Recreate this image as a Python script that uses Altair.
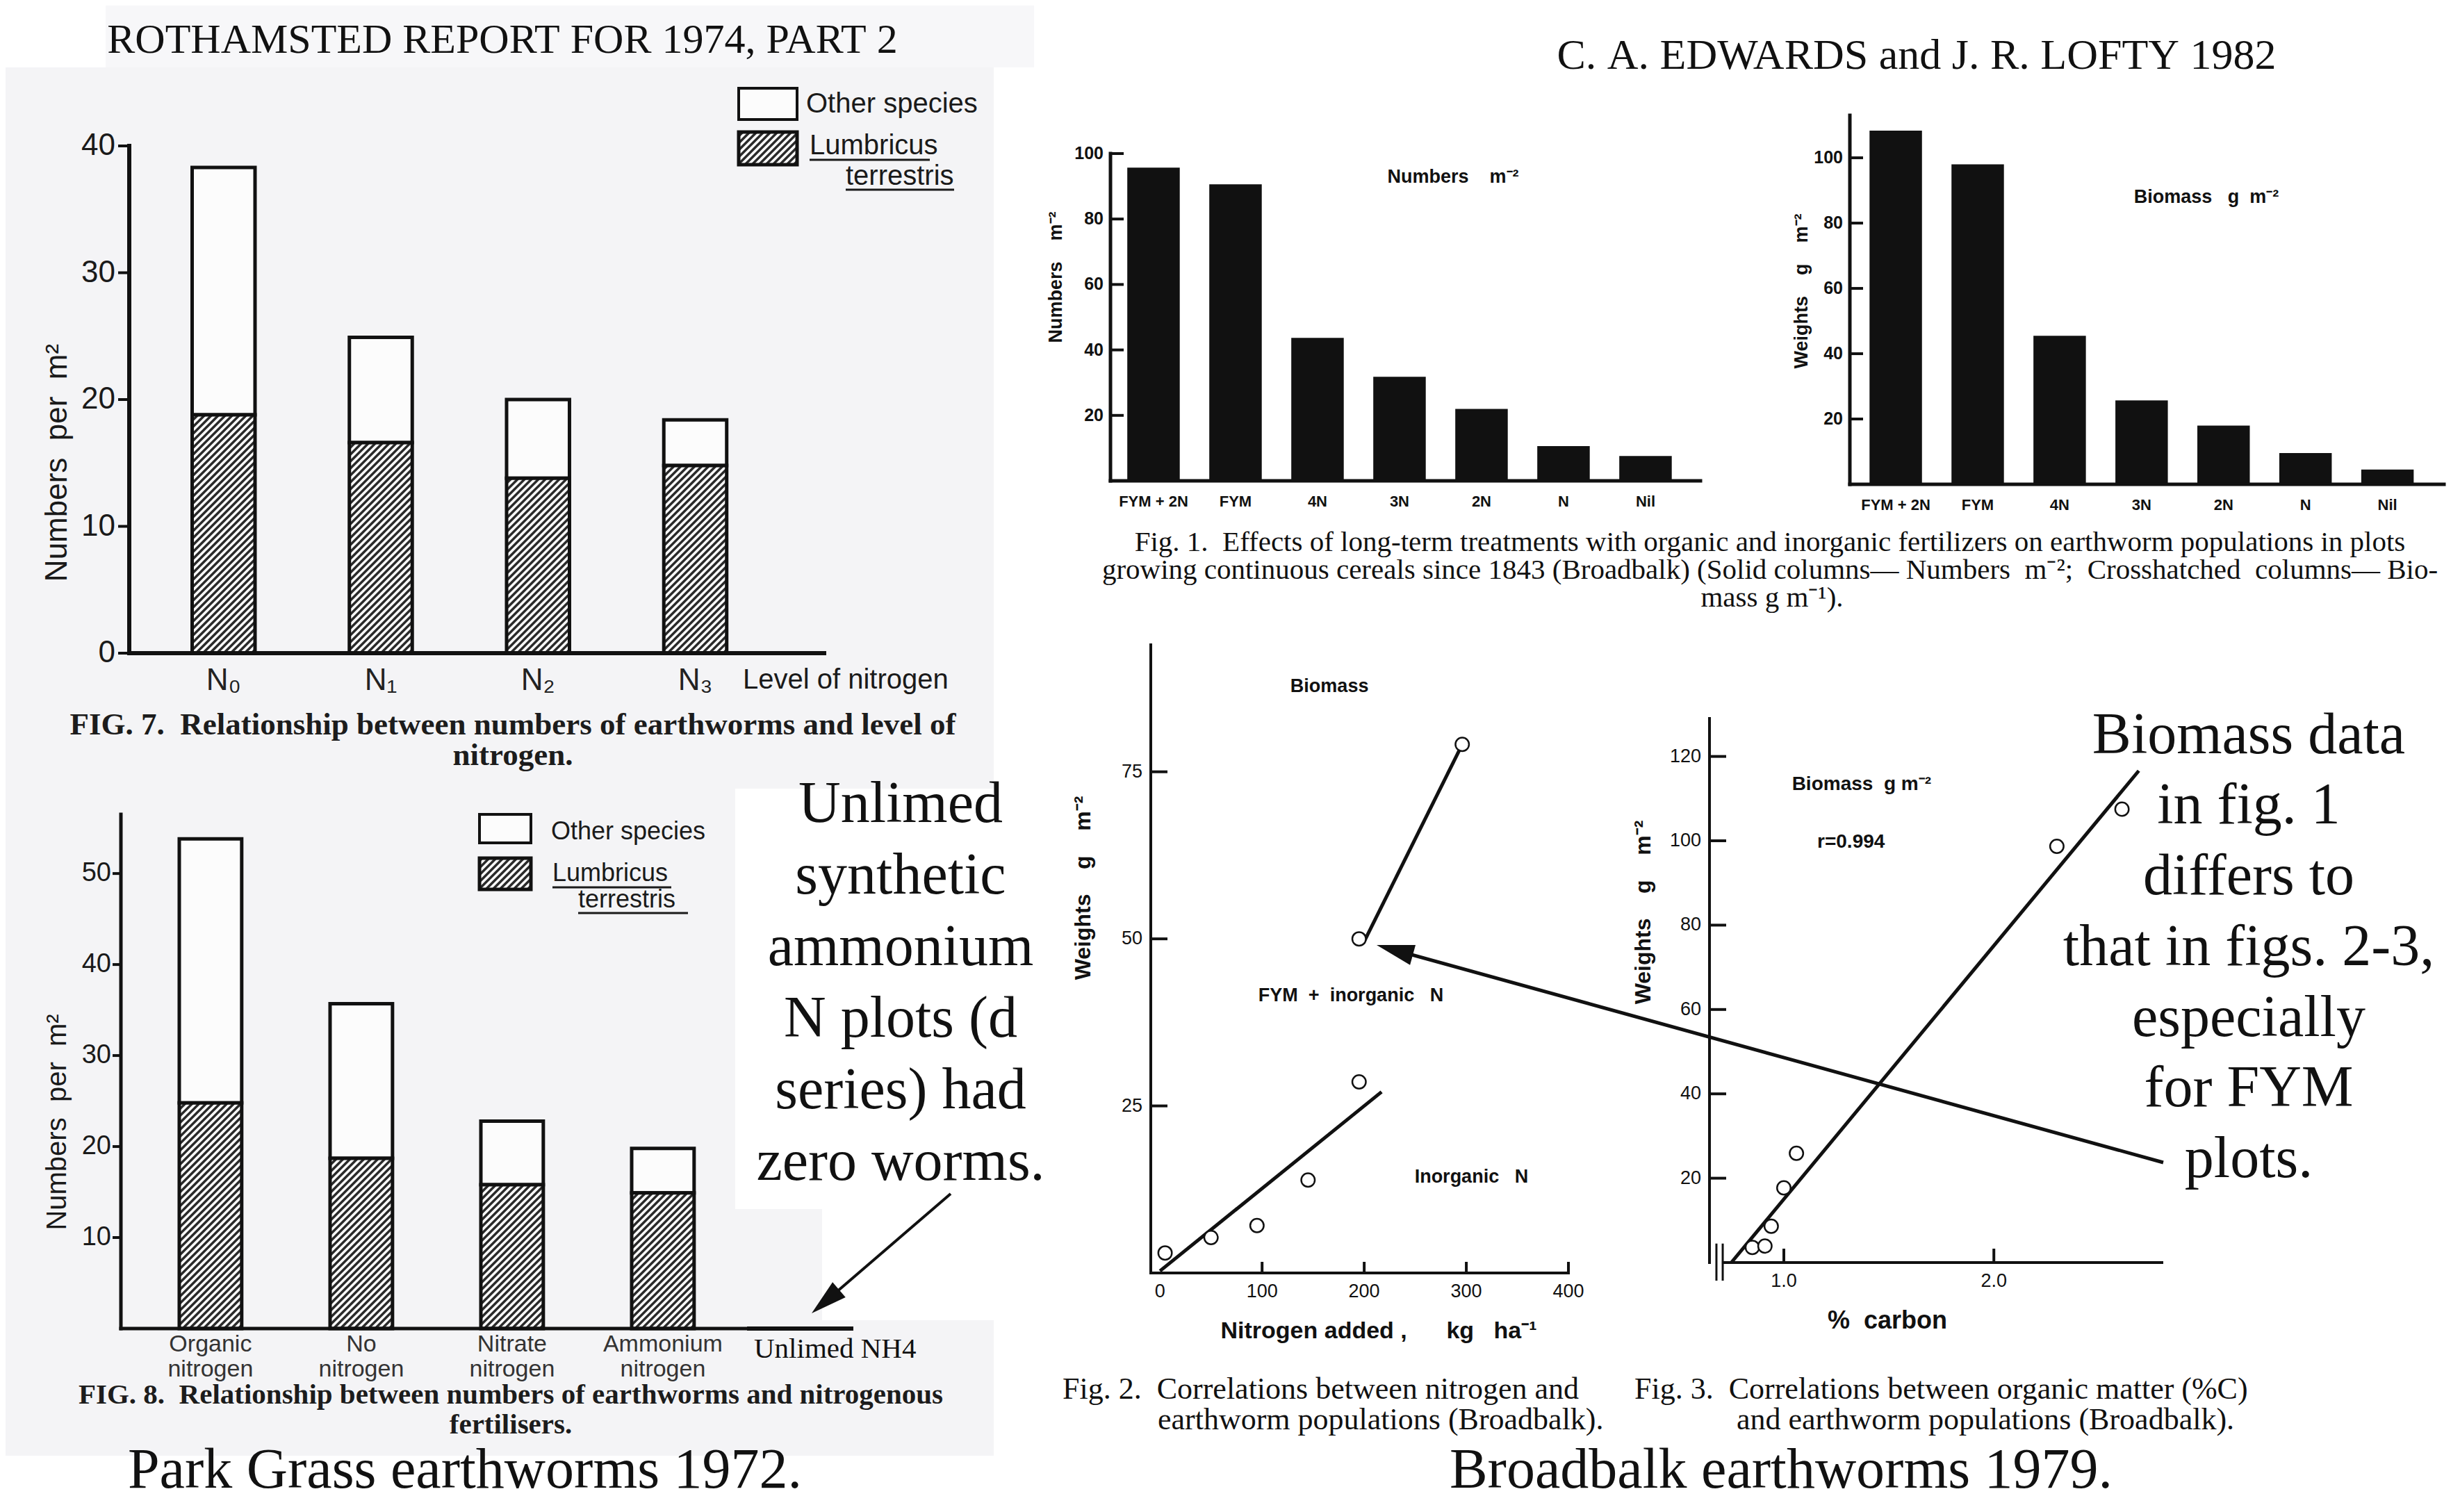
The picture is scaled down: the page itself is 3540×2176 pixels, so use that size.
import math
import altair as alt
import pandas as pd

# ------------------------------------------------------------------ data
fig7_levels = ["N₀", "N₁", "N₂", "N₃"]
fig7_total = [38.3, 24.9, 20.0, 18.4]
fig7_lumbricus = [18.8, 16.6, 13.8, 14.8]
fig7_yticks = [0, 10, 20, 30, 40]

fig8_fertiliser = ["Organic nitrogen", "No nitrogen", "Nitrate nitrogen", "Ammonium nitrogen"]
fig8_total = [53.8, 35.7, 22.8, 19.8]
fig8_lumbricus = [24.8, 18.7, 15.8, 14.9]
fig8_yticks = [10, 20, 30, 40, 50]
unlimed_nh4_total = [0.0]

fig1_treatments = ["FYM + 2N", "FYM", "4N", "3N", "2N", "N", "Nil"]
fig1_numbers = [95.7, 90.6, 43.7, 31.8, 22.0, 10.6, 7.6]
fig1_biomass = [108.3, 98.0, 45.5, 25.7, 18.0, 9.6, 4.5]
fig1_yticks = [20, 40, 60, 80, 100]

fig2_nitrogen = [5, 50, 95, 145, 195, 195, 296]
fig2_weight = [3.0, 5.3, 7.1, 13.9, 28.6, 50.0, 79.1]
fig2_inorg_line_x = [0, 217]
fig2_inorg_line_y = [0.3, 27.1]
fig2_fym_line_x = [199, 296]
fig2_fym_line_y = [49.3, 79.1]
fig2_xticks = [0, 100, 200, 300, 400]
fig2_yticks = [25, 50, 75]

fig3_carbon = [0.85, 0.91, 0.94, 1.00, 1.06, 2.30, 2.61]
fig3_weight = [3.6, 3.9, 8.6, 17.7, 25.9, 98.7, 107.5]
fig3_line_x = [0.75, 2.69]
fig3_line_y = [0.0, 116.6]
fig3_xticks = [1.0, 2.0]
fig3_yticks = [20, 40, 60, 80, 100, 120]

# ------------------------------------------------------------------ layout / style
OFF = 8
W, H = 3524, 2160
NB = "\u00a0"


def P(v):
    return v - OFF


def nb(s):
    # keep repeated spaces visible in SVG text
    return s.replace(" ", NB)


SANS_N = "Liberation Sans Narrow, Liberation Sans, Arial, sans-serif"
SANS_B = "Liberation Sans, Arial, sans-serif"
SERIF = "Liberation Serif, Times New Roman, serif"
INK = "#111111"
HATCH = "#2a2a2a"
PAPER_W = "#fcfcfc"

FIG = {
    "fig7": dict(xdom=[-0.60, 3.82], xpx=[186, 1186], ydom=[0, 40], ypx=[940, 210]),
    "fig8": dict(xdom=[-0.594, 3.558], xpx=[174, 1075], ydom=[0, 56.5], ypx=[1912, 1172]),
    "fig1n": dict(xdom=[-0.525, 6.67], xpx=[1598, 2447], ydom=[0, 100], ypx=[692, 221]),
    "fig1b": dict(xdom=[-0.56, 6.69], xpx=[2662, 3517], ydom=[0, 113], ypx=[697, 166]),
    "fig2": dict(xdom=[-9, 400], xpx=[1656, 2257], ydom=[0, 94], ypx=[1832, 928]),
    "fig3": dict(xdom=[0.646, 2.80], xpx=[2460, 3111], ydom=[0, 129], ypx=[1817, 1034]),
}


def scales(name):
    f = FIG[name]
    xs = alt.Scale(domain=f["xdom"], range=[P(f["xpx"][0]), P(f["xpx"][1])], nice=False, zero=False)
    ys = alt.Scale(domain=f["ydom"], range=[P(f["ypx"][0]), P(f["ypx"][1])], nice=False, zero=False)
    sx = (f["xpx"][1] - f["xpx"][0]) / (f["xdom"][1] - f["xdom"][0])
    sy = (f["ypx"][0] - f["ypx"][1]) / (f["ydom"][1] - f["ydom"][0])
    return xs, ys, sx, sy


def XQ(field, xs):
    return alt.X(field, type="quantitative", scale=xs, axis=None)


def YQ(field, ys):
    return alt.Y(field, type="quantitative", scale=ys, axis=None)


# ---------- hand-drawn axes (through the figure's scales)
def domain_lines(name, width=5, x_start=None):
    xs, ys, sx, sy = scales(name)
    f = FIG[name]
    x0, x1 = f["xdom"]
    y0, y1 = f["ydom"]
    df = pd.DataFrame({"x": [x0 if x_start is None else x_start, x0], "x2": [x1, x0],
                       "y": [y0, y0], "y2": [y0, y1]})
    return alt.Chart(df).mark_rule(color=INK, strokeWidth=width, strokeCap="square").encode(
        x=XQ("x", xs), x2="x2:Q", y=YQ("y", ys), y2="y2:Q")


def ticks_y(name, values, length_px, inward, width=4):
    xs, ys, sx, sy = scales(name)
    x0 = FIG[name]["xdom"][0]
    df = pd.DataFrame({"v": values})
    if inward:
        df["a"], df["b"] = x0, x0 + length_px / sx
    else:
        df["a"], df["b"] = x0 - length_px / sx, x0
    return alt.Chart(df).mark_rule(color=INK, strokeWidth=width).encode(
        x=XQ("a", xs), x2="b:Q", y=YQ("v", ys))


def ticks_x(name, values, length_px, width=4):
    xs, ys, sx, sy = scales(name)
    y0 = FIG[name]["ydom"][0]
    df = pd.DataFrame({"v": values})
    df["a"], df["b"] = y0, y0 + length_px / sy
    return alt.Chart(df).mark_rule(color=INK, strokeWidth=width).encode(
        x=XQ("v", xs), y=YQ("a", ys), y2="b:Q")


def labels_y(name, values, texts, font, size, pad, weight="normal", color=INK):
    xs, ys, sx, sy = scales(name)
    df = pd.DataFrame({"v": values, "t": [nb(t) for t in texts]})
    df["x"] = FIG[name]["xdom"][0]
    return alt.Chart(df).mark_text(font=font, fontSize=size, fontWeight=weight, color=color,
                                   align="right", baseline="middle", dx=-pad).encode(
        x=XQ("x", xs), y=YQ("v", ys), text="t:N")


def labels_x(name, positions, texts, font, size, pad, weight="normal", color=INK):
    xs, ys, sx, sy = scales(name)
    df = pd.DataFrame({"v": positions, "t": [nb(t) for t in texts]})
    df["y"] = FIG[name]["ydom"][0]
    return alt.Chart(df).mark_text(font=font, fontSize=size, fontWeight=weight, color=color,
                                   align="center", baseline="top", dy=pad).encode(
        x=XQ("v", xs), y=YQ("y", ys), text="t:N")


def hatch(x0, x1, y0, y1, sx, sy, step=10.0):
    wp = (x1 - x0) * sx
    hp = (y1 - y0) * sy
    out = []
    c = -wp + step / 2
    while c < hp:
        us = max(0.0, -c)
        ue = min(wp, hp - c)
        if ue > us:
            out.append({"x": x0 + us / sx, "y": y0 + (us + c) / sy,
                        "x2": x0 + ue / sx, "y2": y0 + (ue + c) / sy})
        c += step
    return out


# ---------- pixel-space decoration helpers
def PX(f):
    return alt.X(f, type="quantitative", scale=None, axis=None)


def PY(f):
    return alt.Y(f, type="quantitative", scale=None, axis=None)


def px_rects(rows, **mk):
    df = pd.DataFrame([{"x": P(a), "y": P(b), "x2": P(c), "y2": P(d)} for a, b, c, d in rows])
    return alt.Chart(df).mark_rect(**mk).encode(x=PX("x"), x2="x2:Q", y=PY("y"), y2="y2:Q")


def px_rules(rows, **mk):
    df = pd.DataFrame([{"x": P(a), "y": P(b), "x2": P(c), "y2": P(d)} for a, b, c, d in rows])
    return alt.Chart(df).mark_rule(**mk).encode(x=PX("x"), x2="x2:Q", y=PY("y"), y2="y2:Q")


def px_texts(rows, font, weight="normal", align="center", color=INK):
    df = pd.DataFrame([{"t": nb(t), "x": P(x), "y": P(y), "s": s, "a": a} for (t, x, y, s, a) in rows])
    return alt.Chart(df).mark_text(font=font, fontWeight=weight, align=align, baseline="middle",
                                   color=color).encode(
        x=PX("x"), y=PY("y"), text="t:N",
        size=alt.Size("s:Q", scale=None, legend=None),
        angle=alt.Angle("a:Q", scale=None, legend=None))


def legend(box1, box2, lab_rows, underline_rows):
    parts = [px_rects([box1, box2], fill=PAPER_W, stroke=INK, strokeWidth=4)]
    x0, y0, x1, y1 = box2
    segs = hatch(x0, x1, y1, y0, 1.0, -1.0, step=10.0)
    hdf = pd.DataFrame([{"x": P(s["x"]), "y": P(s["y"]), "x2": P(s["x2"]), "y2": P(s["y2"])} for s in segs])
    parts.append(alt.Chart(hdf).mark_rule(color=HATCH, strokeWidth=3.5).encode(
        x=PX("x"), x2="x2:Q", y=PY("y"), y2="y2:Q"))
    parts.append(px_rects([box2], fillOpacity=0, stroke=INK, strokeWidth=5))
    parts.append(px_texts(lab_rows, SANS_N, align="left", color="#1a1a1a"))
    parts.append(px_rules(underline_rows, color="#1a1a1a", strokeWidth=3))
    return alt.layer(*parts)


def arrow(x0, y0, x1, y1, width, head, half_w=0.6):
    dx, dy = x1 - x0, y1 - y0
    L = math.hypot(dx, dy)
    ux, uy = dx / L, dy / L
    ang = math.degrees(math.atan2(dx, -dy)) % 360
    ex, ey = x1 - ux * head * 0.6, y1 - uy * head * 0.6
    line = px_rules([(x0, y0, ex, ey)], color=INK, strokeWidth=width)
    hdf = pd.DataFrame({"x": [P(x1)], "y": [P(y1)], "a": [ang]})
    tip = alt.Chart(hdf).mark_point(shape=f"M0,0L{half_w},2L-{half_w},2Z", filled=True, color=INK,
                                    size=head * head, opacity=1).encode(
        x=PX("x"), y=PY("y"), angle=alt.Angle("a:Q", scale=None, legend=None))
    return alt.layer(line, tip)


# ------------------------------------------------------------------ stacked bar figures (Park Grass)
def stacked(name, total, lumb, hw):
    xs, ys, sx, sy = scales(name)
    df = pd.DataFrame({"i": list(range(len(total))), "total": total, "lumb": lumb})
    df["x0"] = df["i"] - hw
    df["x1"] = df["i"] + hw
    df["base"] = 0.0
    base = alt.Chart(df)
    other = base.mark_rect(fill=PAPER_W, stroke=INK, strokeWidth=5).encode(
        x=XQ("x0", xs), x2="x1:Q", y=YQ("lumb", ys), y2="total:Q")
    under = base.mark_rect(fill=PAPER_W).encode(
        x=XQ("x0", xs), x2="x1:Q", y=YQ("base", ys), y2="lumb:Q")
    segs = []
    for r in df.itertuples():
        segs += hatch(r.x0, r.x1, 0.0, r.lumb, sx, sy, step=10.0)
    hat = alt.Chart(pd.DataFrame(segs)).mark_rule(color=HATCH, strokeWidth=3.5).encode(
        x=XQ("x", xs), x2="x2:Q", y=YQ("y", ys), y2="y2:Q")
    outline = base.mark_rect(fillOpacity=0, stroke=INK, strokeWidth=5).encode(
        x=XQ("x0", xs), x2="x1:Q", y=YQ("base", ys), y2="lumb:Q")
    return [other, under, hat, outline], xs, ys


fig7_layers, _, _ = stacked("fig7", fig7_total, fig7_lumbricus, 0.2)
fig7 = alt.layer(
    *fig7_layers,
    domain_lines("fig7", width=6),
    ticks_y("fig7", fig7_yticks, 16, inward=False),
    labels_y("fig7", fig7_yticks, [str(v) for v in fig7_yticks], SANS_N, 44, 20, color="#1a1a1a"),
    labels_x("fig7", list(range(len(fig7_levels))), fig7_levels, SANS_N, 44, 18, color="#222"),
)

fig8_layers, xs8, ys8 = stacked("fig8", fig8_total, fig8_lumbricus, 0.207)
unl = pd.DataFrame({"x0": [3.558], "x1": [4.263], "v": unlimed_nh4_total})
fig8 = alt.layer(
    *fig8_layers,
    alt.Chart(unl).mark_rule(color=INK, strokeWidth=6).encode(
        x=XQ("x0", xs8), x2="x1:Q", y=YQ("v", ys8)),
    domain_lines("fig8", width=5),
    ticks_y("fig8", fig8_yticks, 12, inward=False),
    labels_y("fig8", fig8_yticks, [str(v) for v in fig8_yticks], SANS_N, 38, 14, color="#1a1a1a"),
    labels_x("fig8", list(range(len(fig8_fertiliser))), [s.split(" ")[0] for s in fig8_fertiliser],
             SANS_N, 34, 6, color="#333"),
    labels_x("fig8", list(range(len(fig8_fertiliser))), [s.split(" ")[1] for s in fig8_fertiliser],
             SANS_N, 34, 42, color="#333"),
)


# ------------------------------------------------------------------ Broadbalk fig. 1 (solid bars)
def solid(name, values, hw):
    xs, ys, sx, sy = scales(name)
    df = pd.DataFrame({"i": list(range(len(values))), "v": values})
    df["x0"] = df["i"] - hw
    df["x1"] = df["i"] + hw
    df["base"] = 0.0
    bars = alt.Chart(df).mark_rect(fill=INK).encode(
        x=XQ("x0", xs), x2="x1:Q", y=YQ("base", ys), y2="v:Q")
    return alt.layer(
        bars,
        domain_lines(name, width=5),
        ticks_y(name, fig1_yticks, 19, inward=True),
        labels_y(name, fig1_yticks, [str(v) for v in fig1_yticks], SANS_B, 25, 10, weight="bold"),
        labels_x(name, list(range(len(fig1_treatments))), fig1_treatments, SANS_B, 22, 20, weight="bold"),
    )


fig1n = solid("fig1n", fig1_numbers, 0.32)
fig1b = solid("fig1b", fig1_biomass, 0.32)

# ------------------------------------------------------------------ fig. 2
xs2, ys2, sx2, sy2 = scales("fig2")
f2_pts = pd.DataFrame({"n": fig2_nitrogen, "w": fig2_weight})
f2_lines = pd.DataFrame({
    "n": fig2_inorg_line_x + fig2_fym_line_x,
    "w": fig2_inorg_line_y + fig2_fym_line_y,
    "seg": ["Inorganic N"] * 2 + ["FYM + inorganic N"] * 2,
})
f2_lab = pd.DataFrame({"t": [nb("Biomass"), nb("FYM  +  inorganic   N"), nb("Inorganic   N")],
                       "n": [166, 187, 305], "w": [87.8, 41.5, 14.4]})
fig2 = alt.layer(
    domain_lines("fig2", width=4),
    ticks_x("fig2", fig2_xticks[1:], 16),
    ticks_y("fig2", fig2_yticks, 24, inward=True),
    labels_x("fig2", fig2_xticks, [str(v) for v in fig2_xticks], SANS_B, 27, 14),
    labels_y("fig2", fig2_yticks, [str(v) for v in fig2_yticks], SANS_B, 27, 12),
    alt.Chart(f2_lines).mark_line(color=INK, strokeWidth=5).encode(
        x=XQ("n", xs2), y=YQ("w", ys2), detail="seg:N"),
    alt.Chart(f2_pts).mark_point(shape="circle", filled=True, fill="white", stroke=INK,
                                 strokeWidth=2.5, size=380, opacity=1).encode(
        x=XQ("n", xs2), y=YQ("w", ys2)),
    alt.Chart(f2_lab).mark_text(font=SANS_B, fontSize=27, fontWeight="bold", color=INK,
                                baseline="middle").encode(
        x=XQ("n", xs2), y=YQ("w", ys2), text="t:N"),
)

# ------------------------------------------------------------------ fig. 3
xs3, ys3, sx3, sy3 = scales("fig3")
f3_pts = pd.DataFrame({"c": fig3_carbon, "w": fig3_weight})
f3_line = pd.DataFrame({"c": fig3_line_x, "w": fig3_line_y})
f3_lab = pd.DataFrame({"t": [nb("Biomass  g m⁻²"), nb("r=0.994")], "c": [1.37, 1.32], "w": [113.4, 99.6]})
f3_break = pd.DataFrame({"c": [0.679, 0.709], "lo": [-4.3, -4.3], "hi": [4.5, 4.5]})
fig3 = alt.layer(
    domain_lines("fig3", width=4, x_start=0.712),
    alt.Chart(f3_break).mark_rule(color=INK, strokeWidth=3).encode(
        x=XQ("c", xs3), y=YQ("lo", ys3), y2="hi:Q"),
    ticks_x("fig3", fig3_xticks, 20),
    ticks_y("fig3", fig3_yticks, 24, inward=True),
    labels_x("fig3", fig3_xticks, [f"{v:.1f}" for v in fig3_xticks], SANS_B, 27, 14),
    labels_y("fig3", fig3_yticks, [str(v) for v in fig3_yticks], SANS_B, 27, 12),
    alt.Chart(f3_line).mark_line(color=INK, strokeWidth=5).encode(
        x=XQ("c", xs3), y=YQ("w", ys3)),
    alt.Chart(f3_pts).mark_point(shape="circle", filled=True, fill="white", stroke=INK,
                                 strokeWidth=2.5, size=380, opacity=1).encode(
        x=XQ("c", xs3), y=YQ("w", ys3)),
    alt.Chart(f3_lab).mark_text(font=SANS_B, fontSize=28, fontWeight="bold", color=INK,
                                baseline="middle").encode(
        x=XQ("c", xs3), y=YQ("w", ys3), text="t:N"),
)

# ------------------------------------------------------------------ backgrounds
backgrounds = alt.layer(
    px_rects([(0, 97, 1430, 2095)], fill="#f4f4f6"),
    px_rects([(152, 8, 1488, 97)], fill="#f7f7f9"),
    px_rects([(1058, 1135, 1430, 1740), (1183, 1740, 1430, 1900)], fill="#ffffff"),
)

# ------------------------------------------------------------------ legends
leg7 = legend((1063, 127, 1147, 172), (1063, 190, 1147, 237),
              [("Other species", 1160, 150, 40, 0), ("Lumbricus", 1165, 210, 40, 0),
               ("terrestris", 1217, 254, 40, 0)],
              [(1165, 230, 1338, 230), (1217, 273, 1373, 273)])
leg8 = legend((690, 1172, 764, 1213), (690, 1235, 764, 1280),
              [("Other species", 793, 1197, 36, 0), ("Lumbricus", 795, 1257, 36, 0),
               ("terrestris", 832, 1295, 36, 0)],
              [(795, 1277, 966, 1277), (832, 1314, 990, 1314)])

# ------------------------------------------------------------------ texts
serif_center = px_texts([
    ("ROTHAMSTED REPORT FOR 1974, PART 2", 723, 58, 60, 0),
    ("C. A. EDWARDS and J. R. LOFTY 1982", 2758, 80, 62, 0),
    ("Park Grass earthworms 1972.", 669, 2116, 82, 0),
    ("Fig. 1.  Effects of long-term treatments with organic and inorganic fertilizers on earthworm populations in plots",
     2547, 781, 41, 0),
    ("growing continuous cereals since 1843 (Broadbalk) (Solid columns— Numbers  m⁻²;  Crosshatched  columns— Bio-",
     2547, 821, 41, 0),
    ("mass g m⁻¹).", 2550, 861, 41, 0),
    ("Broadbalk earthworms 1979.", 2563, 2116, 82, 0),
    ("Unlimed", 1296, 1158, 84, 0),
    ("synthetic", 1296, 1261, 84, 0),
    ("ammonium", 1296, 1364, 84, 0),
    ("N plots (d", 1296, 1467, 84, 0),
    ("series) had", 1296, 1570, 84, 0),
    ("zero worms.", 1296, 1673, 84, 0),
    ("Biomass data", 3236, 1059, 84, 0),
    ("in fig. 1", 3236, 1160, 84, 0),
    ("differs to", 3236, 1262, 84, 0),
    ("that in figs. 2-3,", 3236, 1364, 84, 0),
    ("especially", 3236, 1466, 84, 0),
    ("for FYM", 3236, 1567, 84, 0),
    ("plots.", 3236, 1669, 84, 0),
], SERIF)

serif_caption_bold = px_texts([
    ("FIG. 7.  Relationship between numbers of earthworms and level of", 738, 1043, 45, 0),
    ("nitrogen.", 738, 1087, 45, 0),
    ("FIG. 8.  Relationship between numbers of earthworms and nitrogenous", 735, 2008, 41, 0),
    ("fertilisers.", 735, 2051, 41, 0),
], SERIF, weight="bold", color="#1c1c1c")

serif_left = px_texts([
    ("Unlimed NH4", 1085, 1942, 41, 0),
    ("Fig. 2.  Correlations between nitrogen and", 1529, 2000, 44, 0),
    ("earthworm populations (Broadbalk).", 1666, 2044, 44, 0),
    ("Fig. 3.  Correlations between organic matter (%C)", 2352, 2000, 44, 0),
    ("and earthworm populations (Broadbalk).", 2499, 2044, 44, 0),
], SERIF, align="left")

sans_n = px_texts([
    ("Numbers  per  m²", 83, 666, 44, 270),
    ("Numbers  per  m²", 83, 1615, 40, 270),
], SANS_N, color="#1a1a1a")
sans_n_left = px_texts([
    ("Level of nitrogen", 1069, 979, 40, 0),
], SANS_N, align="left", color="#1a1a1a")

sans_b = px_texts([
    ("Numbers    m⁻²", 1520, 399, 27, 270),
    ("Weights    g    m⁻²", 2593, 419, 27, 270),
    ("Numbers    m⁻²", 2091, 255, 27, 0),
    ("Biomass   g  m⁻²", 3175, 284, 27, 0),
    ("Weights    g    m⁻²", 1559, 1278, 32, 270),
    ("Nitrogen added ,      kg   ha⁻¹", 1984, 1916, 34, 0),
    ("Weights    g    m⁻²", 2365, 1313, 32, 270),
    ("%  carbon", 2716, 1901, 36, 0),
], SANS_B, weight="bold")

arrows = alt.layer(
    arrow(1368, 1718, 1168, 1890, 4, 52, half_w=0.55),
    arrow(3113, 1673, 1981, 1360, 5, 54, half_w=0.55),
)

chart = alt.layer(
    backgrounds, fig7, fig8, fig1n, fig1b, fig2, fig3, leg7, leg8,
    serif_center, serif_caption_bold, serif_left, sans_n, sans_n_left, sans_b, arrows,
).resolve_scale(
    x="independent", y="independent"
).properties(
    width=W, height=H, padding=0, background="white",
    autosize=alt.AutoSizeParams(type="none"),
).configure_view(stroke=None)

chart.save("out.html", embed_options={"renderer": "svg", "actions": False})
